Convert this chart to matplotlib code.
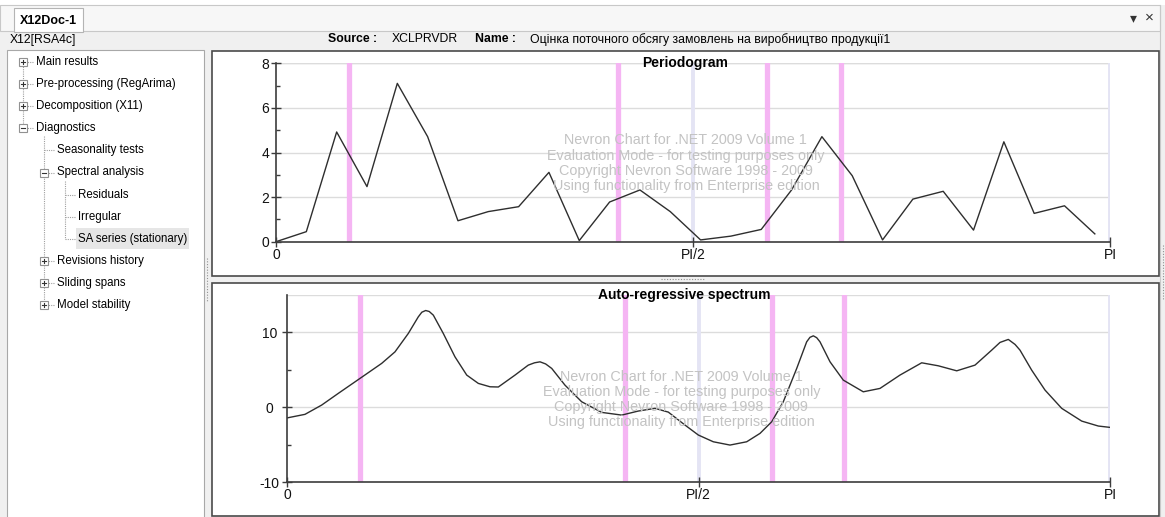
import numpy as np
import matplotlib
matplotlib.use('Agg')
import matplotlib.pyplot as plt
from matplotlib.patches import Rectangle

plt.rcParams['font.family'] = ['Liberation Sans', 'DejaVu Sans']
plt.rcParams['axes.unicode_minus'] = False

W, H = 1165, 517

# periodogram ordinates, at frequencies 2*pi*k/55, k = 0..27
n_obs = 55
pgram = [0.0, 0.45, 4.92, 2.47, 7.1, 4.71, 0.94, 1.35, 1.57, 3.11, 0.05, 1.78, 2.32, 1.35,
         0.08, 0.25, 0.55, 2.32, 4.71, 2.96, 0.08, 1.91, 2.26, 0.52, 4.48, 1.27, 1.61, 0.35]

# auto-regressive spectrum (frequency as fraction of pi, value)
ar_freq = [0.0, 0.0215, 0.0418, 0.062, 0.0884, 0.1147, 0.1309, 0.1471, 0.1592, 0.1635,
           0.1682, 0.1725, 0.1775, 0.1896, 0.2038, 0.2181, 0.2322, 0.2464, 0.2565, 0.2768,
           0.2929, 0.3005, 0.3072, 0.314, 0.3214, 0.3375, 0.3578, 0.3822, 0.4065, 0.4266,
           0.4469, 0.4631, 0.4834, 0.4996, 0.5178, 0.5381, 0.5584, 0.5746, 0.5888, 0.6029,
           0.6192, 0.6313, 0.6353, 0.6394, 0.6435, 0.6475, 0.6597, 0.6758, 0.7001, 0.7204,
           0.7447, 0.7711, 0.7913, 0.8137, 0.8359, 0.8562, 0.8663, 0.8764, 0.8846, 0.8906,
           0.9048, 0.921, 0.9413, 0.9656, 0.9858, 1.0]
ar_spec = [-1.4, -0.93, 0.31, 1.87, 3.87, 5.87, 7.41, 9.87, 12.08, 12.7,
           12.93, 12.8, 12.31, 9.87, 6.75, 4.31, 3.2, 2.75, 2.72, 4.31,
           5.64, 5.95, 6.08, 5.8, 5.2, 2.97, 0.75, -0.67, -1.03, -0.49,
           -0.13, -0.63, -2.36, -3.69, -4.59, -5.03, -4.59, -3.47, -1.92, 0.75,
           5.2, 8.75, 9.35, 9.55, 9.3, 8.75, 6.08, 3.64, 2.08, 2.53,
           4.31, 5.95, 5.55, 4.88, 5.64, 7.64, 8.67, 9.07, 8.4, 7.64,
           4.97, 2.31, -0.13, -1.83, -2.49, -2.67]

td_freq = [0.088, 0.41, 0.589, 0.677]     # trading-day frequencies (pink)
seas_freq = [0.5, 1.0]                     # seasonal frequencies (lavender)

tree = [('Main results', 0, '+'), ('Pre-processing (RegArima)', 0, '+'),
        ('Decomposition (X11)', 0, '+'), ('Diagnostics', 0, '-'),
        ('Seasonality tests', 1, None), ('Spectral analysis', 1, '-'),
        ('Residuals', 2, None), ('Irregular', 2, None), ('SA series (stationary)', 2, None),
        ('Revisions history', 1, '+'), ('Sliding spans', 1, '+'), ('Model stability', 1, '+')]

watermark = ['Nevron Chart for .NET 2009 Volume 1',
             'Evaluation Mode - for testing purposes only',
             'Copyright Nevron Software 1998 - 2009',
             'Using functionality from Enterprise edition']

PINK = '#f5b5f3'
LAV = '#e4e4f4'
GRID = '#dcdcdc'
AXC = '#3c3c3c'

fig = plt.figure(figsize=(W / 100, H / 100), dpi=100)
fig.patch.set_facecolor('#f0f0f0')

ui = fig.add_axes([0, 0, 1, 1])
ui.set_xlim(0, W)
ui.set_ylim(H, 0)
ui.axis('off')

# window chrome
ui.add_patch(Rectangle((0, 0), W, 5, fc='white', ec='none'))
ui.add_patch(Rectangle((0, 5), 1160, 26, fc='#f7f7f7', ec='#c8c8c8', lw=0.8))
ui.add_patch(Rectangle((14, 8), 69, 23.5, fc='white', ec='#b4b4b4', lw=0.8))
ui.text(48.5, 20.5, 'X12Doc-1', fontsize=9, fontweight='bold', ha='center', va='center')
ui.text(1133, 18, '\u25be', fontsize=10, ha='center', va='center', color='#333333')
ui.text(1149, 17.5, '\u00d7', fontsize=11, ha='center', va='center', color='#333333')
ui.plot([1160, 1160], [5, H], color='#c8c8c8', lw=0.8)

# header row
ui.text(10, 39.5, 'X12[RSA4c]', fontsize=8.8, va='center')
ui.text(328, 39.5, 'Source :', fontsize=8.8, fontweight='bold', va='center')
ui.text(392, 39.5, 'XCLPRVDR', fontsize=8.8, va='center')
ui.text(475, 39.5, 'Name :', fontsize=8.8, fontweight='bold', va='center')
ui.text(530, 39.5, 'Оцінка поточного обсягу замовлень на виробництво продукції1',
        fontsize=8.8, va='center')

# tree panel
ui.add_patch(Rectangle((7, 50), 197, 480, fc='white', ec='#a8a8a8', lw=0.8))
box_x = [22.5, 43.5, 64.5]
text_x = [36, 57, 78]
ys = [62 + 22.1 * i for i in range(len(tree))]
dot = dict(color='#a0a0a0', lw=0.8, ls=(0, (1, 1)))
ui.plot([box_x[0]] * 2, [ys[0], ys[3]], **dot)
ui.plot([box_x[1]] * 2, [ys[3] + 8, ys[11]], **dot)
ui.plot([box_x[2]] * 2, [ys[5] + 8, ys[8]], **dot)
for (label, lev, box), y in zip(tree, ys):
    ui.plot([box_x[lev], text_x[lev] - 2], [y, y], **dot)
    if label.startswith('SA series'):
        ui.add_patch(Rectangle((75.5, y - 10.5), 113, 21, fc='#e6e6e6', ec='none'))
    if box:
        ui.add_patch(Rectangle((box_x[lev] - 4, y - 4), 8, 8, fc='white', ec='#919191', lw=0.8, zorder=3))
        ui.plot([box_x[lev] - 2, box_x[lev] + 2], [y, y], color='#333333', lw=0.8, zorder=4)
        if box == '+':
            ui.plot([box_x[lev]] * 2, [y - 2, y + 2], color='#333333', lw=0.8, zorder=4)
    ui.text(text_x[lev], y, label, fontsize=8.3, va='center', zorder=5)

# splitter grips
ui.plot([207, 207], [258, 302], color='#909090', lw=0.8, ls=(0, (1, 1.5)))
ui.plot([661, 704], [279, 279], color='#909090', lw=0.8, ls=(0, (1, 1.5)))
ui.plot([1163, 1163], [245, 300], color='#909090', lw=0.8, ls=(0, (1, 1.5)))

# chart panels
ui.add_patch(Rectangle((212, 51), 947, 225, fc='white', ec='#4a4a4a', lw=1.2))
ui.add_patch(Rectangle((212, 282.5), 947, 233.5, fc='white', ec='#4a4a4a', lw=1.2))


def px_axes(left, top, right, bottom):
    return fig.add_axes([left / W, 1 - bottom / H, (right - left) / W, (bottom - top) / H])


def style(ax, ylim, major, minor, ypad):
    ax.set_facecolor('none')
    ax.set_xlim(0, np.pi)
    ax.set_ylim(*ylim)
    for f in td_freq:
        ax.axvline(f * np.pi, color=PINK, lw=3.8, zorder=1)
    for f in seas_freq:
        ax.axvline(f * np.pi, color=LAV, lw=2.8, zorder=1)
    for v in list(major) + [ylim[1]]:
        if ylim[0] < v:
            ax.axhline(v, color=GRID, lw=1.0, zorder=0.5)
    ax.set_xticks([0, np.pi / 2, np.pi], ['0', 'PI/2', 'PI'])
    ax.set_yticks(major, [str(v) for v in major])
    ax.set_yticks(minor, minor=True)
    ax.spines['top'].set_visible(False)
    ax.spines['right'].set_visible(False)
    for s in ('left', 'bottom'):
        ax.spines[s].set_color(AXC)
        ax.spines[s].set_linewidth(1.2)
        ax.spines[s].set_zorder(3)
    ax.tick_params(which='major', direction='inout', length=6.5, width=1.0, color=AXC,
                   labelsize=10, labelcolor='#111111')
    ax.tick_params(axis='x', pad=1)
    ax.tick_params(axis='y', pad=ypad)
    ax.tick_params(which='minor', axis='y', direction='in', length=3, width=1.0, color=AXC)
    ax.tick_params(which='minor', axis='x', length=0)
    for lab in ax.get_yticklabels():
        lab.set_ha('center')


def add_watermark(ax, x0, y0, step):
    for i, line in enumerate(watermark):
        ax.text(x0, y0 - i * step, line, transform=ax.transAxes, fontsize=10.4,
                color='#c3c3c3', ha='center', va='center', zorder=5)


# periodogram
ax1 = px_axes(276, 63.3, 1110, 241.7)
style(ax1, (0, 8), [0, 2, 4, 6, 8], [1, 3, 5, 7], 4.5)
freqs = 2 * np.pi * np.arange(len(pgram)) / n_obs
ax1.plot(freqs, pgram, color='#2e2e2e', lw=1.0, zorder=2, clip_on=False)
ax1.text(0.491, 1.0, 'Periodogram', transform=ax1.transAxes, fontsize=10, fontweight='bold',
         ha='center', va='center', zorder=6)
add_watermark(ax1, 0.4915, 0.568, 0.0855)

# auto-regressive spectrum
ax2 = px_axes(287.3, 295, 1110, 482.3)
style(ax2, (-10, 15), [-10, 0, 10], [-5, 5], 9.5)
ax2.plot(np.array(ar_freq) * np.pi, ar_spec, color='#2e2e2e', lw=1.0, zorder=2,
         solid_joinstyle='round')
ax2.text(0.483, 1.0, 'Auto-regressive spectrum', transform=ax2.transAxes, fontsize=10,
         fontweight='bold', ha='center', va='center', zorder=6)
add_watermark(ax2, 0.479, 0.563, 0.0805)

fig.savefig('out.png', dpi=100, facecolor=fig.get_facecolor())
